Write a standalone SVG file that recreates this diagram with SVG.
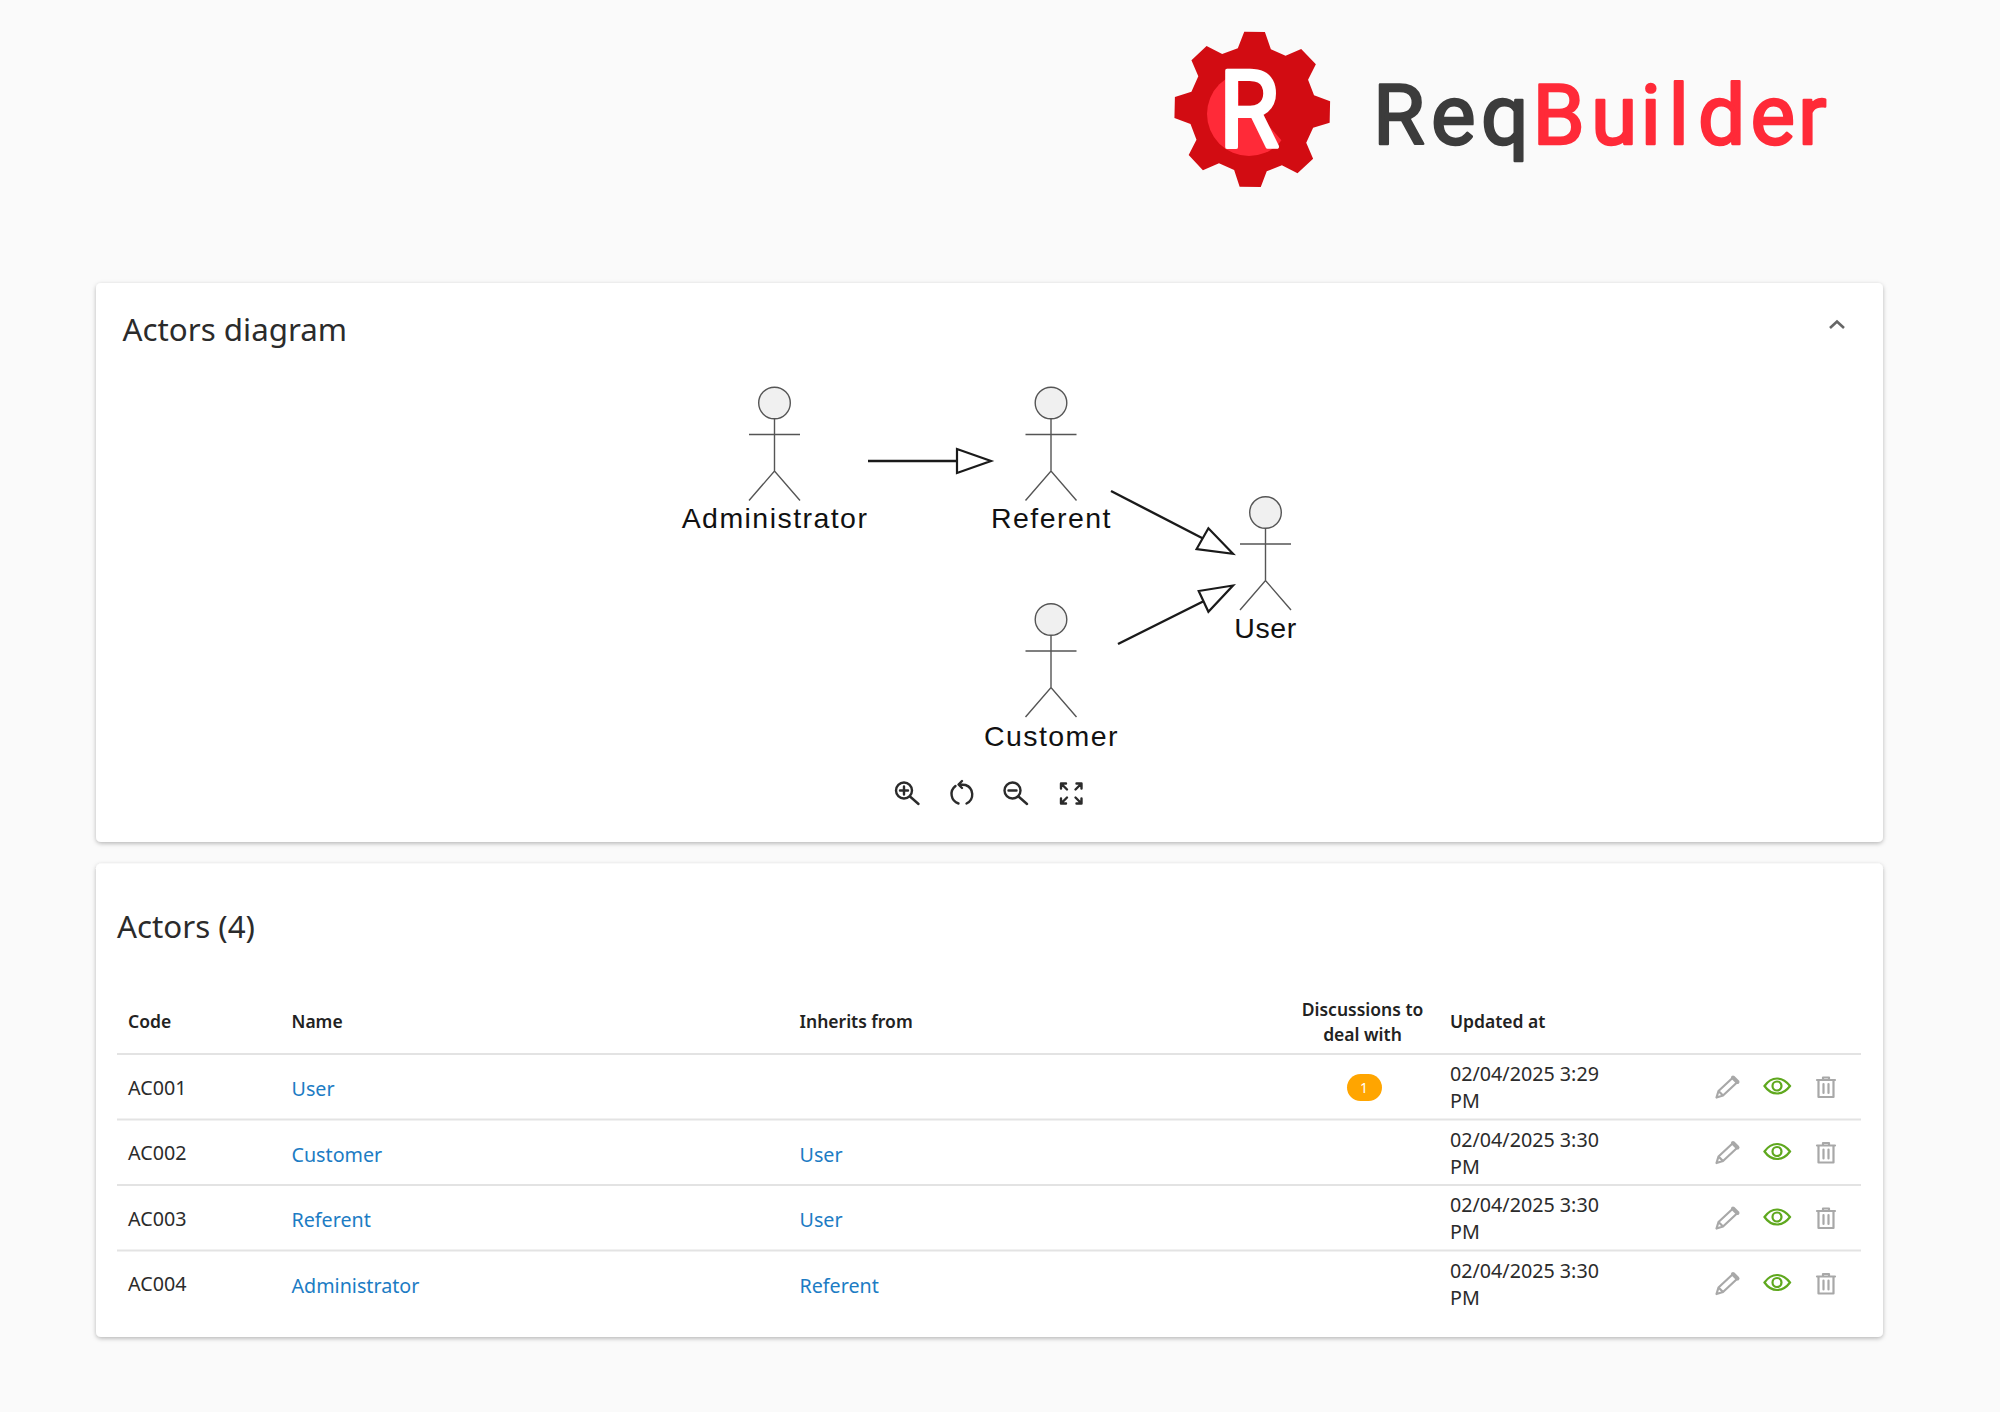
<svg xmlns="http://www.w3.org/2000/svg" width="2000" height="1412" viewBox="0 0 2000 1412">
<style>
text{font-family:"Noto Sans","Open Sans",sans-serif;fill:#2b2b2b}
.title{font-size:31.300px}
.th{font-size:17.500px;font-weight:600;fill:#222}
.td{font-size:19.700px}
.lnk{font-size:19.700px;fill:#1c7cc4}
.lab{font-family:"Liberation Sans",Arial,sans-serif;font-size:28.500px;letter-spacing:1.450px;text-anchor:middle;fill:#111}
.card{fill:#fff;filter:url(#sh)}
.rule{stroke:#e3e3e3;stroke-width:2}
.fig{fill:none;stroke:#555;stroke-width:1.4}
.head{fill:#f0f0f0;stroke:#555;stroke-width:1.4}
.conn{fill:none;stroke:#1a1a1a;stroke-width:2.400}
.tip{fill:#fff;stroke:#1a1a1a;stroke-width:2.200}
.tool{fill:none;stroke:#2b2b2b;stroke-width:2.400;stroke-linecap:round;stroke-linejoin:round}
.ic{fill:none;stroke:#a8a8a8;stroke-width:2.200;stroke-linejoin:round;stroke-linecap:round}
.eye{fill:none;stroke:#5fa81e;stroke-width:2.200}
.logo{font-family:Roboto,"Noto Sans",sans-serif;font-size:84px;font-weight:400;stroke-width:2.400;stroke-linejoin:round}
</style>
<defs>
<filter id="sh" x="-2%" y="-5%" width="104%" height="110%"><feDropShadow dx="0" dy="1.5" stdDeviation="2.200" flood-color="#000" flood-opacity="0.28"/></filter>
<clipPath id="rclip"><polygon points="1200,60 1239,60 1239,116 1260,116 1290,150 1290,170 1200,170"/></clipPath>
<g id="actor">
<circle class="head" cx="0" cy="0" r="15.800"/>
<path class="fig" d="M0 15.800V68M-25.500 31.500H25.500M-25.500 97.500L0 68L25.500 97.500"/>
</g>
<g id="pencil"><path class="ic" d="M1716.500 1097.500L1718.500 1091L1733 1077.500L1737.500 1082L1723 1095.500ZM1718.500 1091L1723 1095.500"/><path d="M1733 1077.500L1737.500 1082" stroke="#a8a8a8" stroke-width="4" stroke-linecap="round"/></g>
<g id="eye"><path class="eye" d="M1764.500 1086c7-10 18-10 25.500 0c-7.500 10-18.500 10-25.500 0z"/><circle class="eye" cx="1777" cy="1086" r="4.500"/></g>
<g id="trash"><path class="ic" d="M1817 1080h18M1823 1080v-2.500h6v2.500M1818.500 1080v17h15v-17M1823.500 1084v9M1828.500 1084v9"/></g>
</defs>
<rect width="2000" height="1412" fill="#fafafa"/>

<g id="logo">
<polygon fill="#d20c12" transform="translate(1140 10) scale(0.4592 0.3333)" points="227,65 272,66 285,118 317,137 351,117 383,163 366,209 379,256 414,274 413,338 377,353 362,398 377,446 343,490 309,466 276,484 263,531 217,530 205,480 172,460 137,481 106,435 123,389 110,342 75,324 76,261 112,245 127,199 112,151 145,108 179,132 213,115"/>
<circle cx="1249" cy="114" r="42" fill="#ff2a38" clip-path="url(#rclip)"/>
<text x="1219" y="147" font-size="108" style="font-family:Roboto,sans-serif;fill:#fff;stroke:#fff;stroke-width:4;stroke-linejoin:round" textLength="60" lengthAdjust="spacingAndGlyphs">R</text>
<text class="logo" x="1373 1431 1481" y="144" style="fill:#3c3c3c;stroke:#3c3c3c">Req</text>
<text class="logo" x="1532.500 1591 1640.500 1668.500 1698 1750.500 1798" y="144" style="fill:#ff2a38;stroke:#ff2a38">Builder</text>
</g>

<g id="card-diagram">
<rect class="card" x="96" y="283" width="1787" height="559" rx="5"/>
<text class="title" x="122.500" y="341">Actors diagram</text>
<path d="M1830 328l7-6.500 7 6.500" fill="none" stroke="#666" stroke-width="2.600"/>
</g>

<g id="connectors">
<path class="conn" d="M868 461H957"/>
<polygon class="tip" points="957,449 957,473 991,461"/>
<path class="conn" d="M1111 491L1203 538.500"/>
<polygon class="tip" points="1208.400,528.300 1196.600,549 1233,553.800"/>
<path class="conn" d="M1118 644L1203 601.500"/>
<polygon class="tip" points="1198.700,591 1208.400,611.700 1233,585.500"/>
</g>

<g id="actor-administrator"><use href="#actor" x="774.500" y="403"/><text class="lab" x="775" y="528">Administrator</text></g>
<g id="actor-referent"><use href="#actor" x="1051" y="403"/><text class="lab" x="1051.500" y="528">Referent</text></g>
<g id="actor-user"><use href="#actor" x="1265.500" y="512.500"/><text class="lab" x="1265.500" y="638" style="letter-spacing:0.600px">User</text></g>
<g id="actor-customer"><use href="#actor" x="1051" y="619.500"/><text class="lab" x="1051.500" y="746">Customer</text></g>

<g id="toolbar">
<circle class="tool" cx="904" cy="790.500" r="8"/><path class="tool" d="M910 796.500L918.500 804M900 790.500h8M904 786.500v8"/>
<path class="tool" d="M955.500 786a10 10 0 0 0 3 17.500M966.500 803.500a10 10 0 0 0 -1-18.500L959.500 784.500M962 781L958.500 784.500L962 788"/>
<circle class="tool" cx="1012.500" cy="790.500" r="8"/><path class="tool" d="M1018.500 796.500L1027 804M1008.500 790.500h8"/>
<path class="tool" d="M1061 783.500h5M1061 783.500v5M1061 783.500l6 6M1081.500 783.500h-5M1081.500 783.500v5M1081.500 783.500l-6 6M1061 803.500h5M1061 803.500v-5M1061 803.500l6-6M1081.500 803.500h-5M1081.500 803.500v-5M1081.500 803.500l-6-6" stroke-linecap="butt"/>
</g>

<g id="card-table">
<rect class="card" x="96" y="863.500" width="1787" height="473.500" rx="5"/>
<text class="title" x="117" y="938">Actors (4)</text>
<text class="th" x="128" y="1028">Code</text>
<text class="th" x="291.500" y="1028">Name</text>
<text class="th" x="799.500" y="1028">Inherits from</text>
<text class="th" x="1362.500" y="1016" text-anchor="middle">Discussions to</text>
<text class="th" x="1362.500" y="1041" text-anchor="middle">deal with</text>
<text class="th" x="1450" y="1028">Updated at</text>
<path class="rule" d="M117 1054H1861M117 1119.500H1861M117 1185H1861M117 1250.500H1861"/>
</g>

<g id="row-1">
<text class="td" x="128" y="1094.500">AC001</text>
<text class="lnk" x="291.500" y="1096">User</text>
<rect x="1347" y="1074" width="35" height="27" rx="13.500" fill="#ffa500"/>
<text x="1364" y="1093" text-anchor="middle" style="font-size:14px;fill:#fff">1</text>
<text class="td" x="1450" y="1081">02/04/2025 3:29</text><text class="td" x="1450" y="1108">PM</text>
<use href="#pencil"/><use href="#eye"/><use href="#trash"/>
</g>
<g id="row-2">
<text class="td" x="128" y="1160">AC002</text>
<text class="lnk" x="291.500" y="1161.500">Customer</text>
<text class="lnk" x="799.500" y="1161.500">User</text>
<text class="td" x="1450" y="1146.500">02/04/2025 3:30</text><text class="td" x="1450" y="1173.500">PM</text>
<use href="#pencil" y="65.500"/><use href="#eye" y="65.500"/><use href="#trash" y="65.500"/>
</g>
<g id="row-3">
<text class="td" x="128" y="1225.500">AC003</text>
<text class="lnk" x="291.500" y="1227">Referent</text>
<text class="lnk" x="799.500" y="1227">User</text>
<text class="td" x="1450" y="1212">02/04/2025 3:30</text><text class="td" x="1450" y="1239">PM</text>
<use href="#pencil" y="131"/><use href="#eye" y="131"/><use href="#trash" y="131"/>
</g>
<g id="row-4">
<text class="td" x="128" y="1291">AC004</text>
<text class="lnk" x="291.500" y="1292.500">Administrator</text>
<text class="lnk" x="799.500" y="1292.500">Referent</text>
<text class="td" x="1450" y="1277.500">02/04/2025 3:30</text><text class="td" x="1450" y="1304.500">PM</text>
<use href="#pencil" y="196.500"/><use href="#eye" y="196.500"/><use href="#trash" y="196.500"/>
</g>
</svg>
